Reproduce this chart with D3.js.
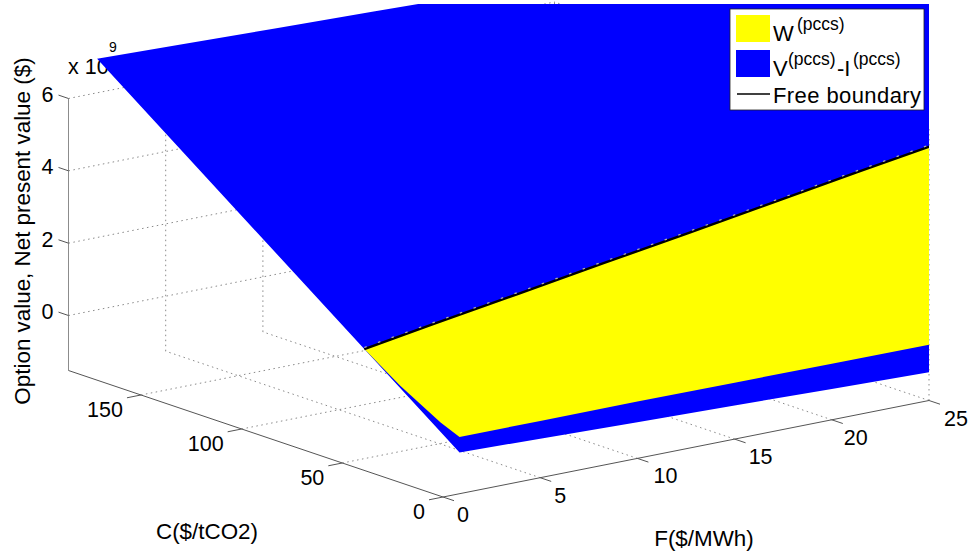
<!DOCTYPE html>
<html>
<head>
    <title>Option value surface</title>
    <script src="https://d3js.org/d3.v7.min.js"></script>
    <style>
        html, body { margin: 0; padding: 0; background: #fff; }
        text { font-family: "Liberation Sans", Arial, sans-serif; fill: #000; }
        .tick-label { font-size: 21.5px; text-anchor: middle; }
        .axis-label { font-size: 22.4px; text-anchor: middle; }
        .legend-text { font-size: 22px; }
        .legend-sup { font-size: 17.5px; }
        .grid { stroke: #8a8a8a; stroke-width: 1; stroke-dasharray: 1.5 3.5; fill: none; }
    </style>
</head>
<body>
    <svg id="chart" width="972" height="555"></svg>

    <script>
        // axis ticks
        var fTicks = [0, 5, 10, 15, 20, 25];
        var cTicks = [0, 50, 100, 150];
        var zTicks = [0, 2, 4, 6];

        // axis limits
        var fMax = 25, cMax = 186, zMin = -1.52, zMax = 6;

        // surface nodes, z in units of 10^9
        var gridF = [0.85, 5, 10, 15, 20, 25, 30, 35, 40, 45];
        var blueNearZ = [-0.38, -0.44, -0.52, -0.59, -0.67, -0.74, -0.82, -0.9, -0.98, -1.06]; // C = 0
        var blueFarZ = [7.12, 7.06, 6.98, 6.91, 6.83, 6.76, 6.68, 6.6, 6.52, 6.44]; // C = 180
        var blueFarC = 180;

        var yellowF = [0.85, 5, 10, 15, 20, 25, 30, 35];
        var yellowNearZ = [0.05, 0.05, 0.05, 0.04, 0.03, 0.02, 0.01, 0];
        var boundaryC = [47.3, 52.5, 58.8, 65.1, 71.3, 77.6, 83.9, 90.2];
        var boundaryZ = [1.59, 1.75, 1.93, 2.12, 2.3, 2.49, 2.68, 2.86];

        // yellow edge at the low F end
        var edgeC = [29.3, 9.4];
        var edgeZ = [0.91, 0.27];

        var svg = d3.select('#chart');

        // oblique projection: each data axis moves the point along its own screen direction
        var fToX = d3.scaleLinear().domain([0, fMax]).range([443, 929]);
        var fToY = d3.scaleLinear().domain([0, fMax]).range([497, 400.5]);
        var cToX = d3.scaleLinear().domain([0, cMax]).range([0, -374.5]);
        var cToY = d3.scaleLinear().domain([0, cMax]).range([0, -126.5]);
        var zToY = d3.scaleLinear().domain([zMin, zMax]).range([0, -272]);

        function project(f, c, z) {
            return [fToX(f) + cToX(c), fToY(f) + cToY(c) + zToY(z)];
        }

        var line = d3.line();

        // grid on the floor and the two back walls
        var gridLines = [];
        fTicks.slice(1).forEach(function(f) {
            gridLines.push([project(f, 0, zMin), project(f, cMax, zMin)]);
            gridLines.push([project(f, cMax, zMin), project(f, cMax, zMax)]);
        });
        cTicks.slice(1).forEach(function(c) {
            gridLines.push([project(0, c, zMin), project(fMax, c, zMin)]);
            gridLines.push([project(fMax, c, zMin), project(fMax, c, zMax)]);
        });
        gridLines.push([project(fMax, 0, zMin), project(fMax, 0, zMax)]);
        gridLines.push([project(fMax, cMax, zMin), project(fMax, cMax, zMax)]);
        zTicks.forEach(function(z) {
            gridLines.push([project(0, cMax, z), project(fMax, cMax, z)]);
            gridLines.push([project(fMax, 0, z), project(fMax, cMax, z)]);
        });

        svg.selectAll('.grid')
            .data(gridLines)
            .enter().append('path')
            .attr('class', 'grid')
            .attr('d', line);

        // exponent sits under the surface corner
        svg.append('text').attr('x', 68).attr('y', 74).style('font-size', '21.5px').text('x 10');
        svg.append('text').attr('x', 109).attr('y', 52).style('font-size', '14px').text('9');

        // axes
        function axisLine(a, b, color) {
            svg.append('path').attr('d', line([a, b])).attr('stroke', color).attr('stroke-width', 1).attr('fill', 'none');
        }
        axisLine(project(0, cMax, zMin), project(0, cMax, zMax), '#8c8c8c');
        axisLine(project(0, 0, zMin), project(0, cMax, zMin), '#555');
        axisLine(project(0, 0, zMin), project(fMax, 0, zMin), '#555');

        // tick marks: z and C ticks point along the neighbouring axes
        function tickMark(p, dx, dy) {
            svg.append('path').attr('d', line([p, [p[0] + dx, p[1] + dy]]))
                .attr('stroke', '#555').attr('stroke-width', 1).attr('fill', 'none');
        }
        zTicks.forEach(function(z) { tickMark(project(0, cMax, z), -10, -3.4); });
        cTicks.forEach(function(c) { tickMark(project(0, c, zMin), -14, 2.8); });
        fTicks.forEach(function(f) { tickMark(project(f, 0, zMin), 11, 3.7); });

        // tick labels, offset from the axis point
        zTicks.forEach(function(z) {
            var p = project(0, cMax, z);
            svg.append('text').attr('class', 'tick-label').attr('x', p[0] - 21).attr('y', p[1] + 3.5).text(z);
        });
        cTicks.forEach(function(c) {
            var p = project(0, c, zMin);
            svg.append('text').attr('class', 'tick-label').style('text-anchor', 'end')
                .attr('x', p[0] - 18).attr('y', p[1] + 22).text(c);
        });
        var fLabelDx = [20, 20, 28, 26, 24, 27];
        fTicks.forEach(function(f, i) {
            var p = project(f, 0, zMin);
            svg.append('text').attr('class', 'tick-label').attr('x', p[0] + fLabelDx[i]).attr('y', p[1] + 25).text(f);
        });

        // axis labels
        svg.append('text').attr('class', 'axis-label').attr('x', 207).attr('y', 539).text('C($/tCO2)');
        svg.append('text').attr('class', 'axis-label').attr('x', 704).attr('y', 546).text('F($/MWh)');
        svg.append('text').attr('class', 'axis-label')
            .attr('transform', 'translate(30,231) rotate(-90)')
            .text('Option value, Net present value ($)');

        // surfaces are cut off by the plot box at the right and top
        svg.append('clipPath').attr('id', 'plot-clip')
            .append('rect').attr('x', 0).attr('y', 4).attr('width', 929).attr('height', 551);

        var surfaces = svg.append('g').attr('clip-path', 'url(#plot-clip)');

        var bluePts = gridF.map(function(f, i) { return project(f, 0, blueNearZ[i]); })
            .concat(gridF.map(function(f, i) { return project(f, blueFarC, blueFarZ[i]); }).reverse());
        surfaces.append('path').attr('d', line(bluePts) + 'Z').attr('fill', '#0000ff');

        var boundaryPts = yellowF.map(function(f, i) { return project(f, boundaryC[i], boundaryZ[i]); });
        var yellowPts = yellowF.map(function(f, i) { return project(f, 0, yellowNearZ[i]); })
            .concat(boundaryPts.slice().reverse())
            .concat(edgeC.map(function(c, i) { return project(yellowF[0], c, edgeZ[i]); }));
        surfaces.append('path').attr('d', line(yellowPts) + 'Z').attr('fill', '#ffff00');

        surfaces.append('path').attr('d', line(boundaryPts)).attr('fill', 'none')
            .attr('stroke', '#000').attr('stroke-width', 2.4);

        // light flecks along the upper side of the boundary
        surfaces.append('path').attr('d', line(boundaryPts)).attr('fill', 'none')
            .attr('transform', 'translate(0,-1.6)')
            .attr('stroke', '#b4b4a0').attr('stroke-width', 1.2).attr('stroke-dasharray', '2.5 12');

        // legend
        var legend = svg.append('g');
        legend.append('rect').attr('x', 730).attr('y', 9).attr('width', 194).attr('height', 101)
            .attr('fill', '#fff').attr('stroke', '#222').attr('stroke-width', 0.8);
        legend.append('rect').attr('x', 736).attr('y', 15).attr('width', 34).attr('height', 27).attr('fill', '#ffff00');
        legend.append('rect').attr('x', 736).attr('y', 50).attr('width', 34).attr('height', 27).attr('fill', '#0000ff');
        legend.append('path').attr('d', line([[737, 94], [770, 94]])).attr('stroke', '#000').attr('stroke-width', 1.5);

        legend.append('text').attr('class', 'legend-text').attr('x', 773).attr('y', 41).text('W');
        legend.append('text').attr('class', 'legend-sup').attr('x', 797).attr('y', 30).text('(pccs)');
        legend.append('text').attr('class', 'legend-text').attr('x', 773).attr('y', 76).text('V');
        legend.append('text').attr('class', 'legend-sup').attr('x', 788).attr('y', 65).text('(pccs)');
        legend.append('text').attr('class', 'legend-text').attr('x', 837).attr('y', 76).text('-I');
        legend.append('text').attr('class', 'legend-sup').attr('x', 853).attr('y', 65).text('(pccs)');
        legend.append('text').attr('class', 'legend-text').attr('x', 773).attr('y', 103)
            .attr('textLength', 148).text('Free boundary');
    </script>
</body>
</html>
